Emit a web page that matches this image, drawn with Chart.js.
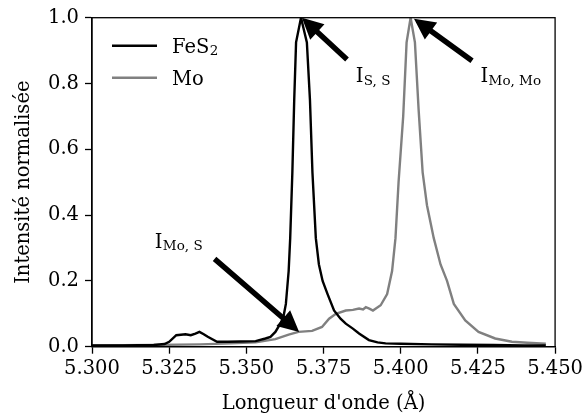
<!DOCTYPE html>
<html>
<head>
<meta charset="utf-8">
<script src="https://cdn.jsdelivr.net/npm/chart.js@4.4.1/dist/chart.umd.min.js"></script>
<style>
  html, body { margin: 0; padding: 0; background: #fff; }
  #wrap { width: 587px; height: 419px; }
</style>
</head>
<body>
<div id="wrap"><canvas id="viz" width="587" height="419"></canvas></div>
<script>
// FeS2 spectrum (wavelength in Å, normalised intensity)
const wavelengthFe = [5.300, 5.310, 5.320, 5.3235, 5.3250, 5.3273, 5.3303, 5.3320, 5.3335, 5.3348, 5.3362, 5.3375,
  5.3405, 5.3440, 5.3480, 5.3530, 5.3562, 5.3578, 5.3594, 5.3610, 5.3620, 5.3628, 5.3637, 5.3642, 5.3649,
  5.3655, 5.3661, 5.3677, 5.3696, 5.3706, 5.3714, 5.3725, 5.3735, 5.3747, 5.3763, 5.3784, 5.3805, 5.3822,
  5.3845, 5.3865, 5.3897, 5.3925, 5.3951, 5.4000, 5.4100, 5.4200, 5.4300, 5.4400, 5.4470];
const intensityFe = [0.004, 0.004, 0.005, 0.008, 0.015, 0.035, 0.038, 0.035, 0.040, 0.045, 0.038, 0.030,
  0.015, 0.015, 0.016, 0.017, 0.025, 0.030, 0.045, 0.070, 0.090, 0.130, 0.230, 0.330, 0.530,
  0.750, 0.925, 1.000, 0.925, 0.750, 0.530, 0.330, 0.250, 0.200, 0.160, 0.110, 0.085, 0.070,
  0.055, 0.040, 0.020, 0.013, 0.010, 0.009, 0.007, 0.006, 0.005, 0.004, 0.004];

// Mo spectrum
const wavelengthMo = [5.300, 5.320, 5.335, 5.345, 5.3530, 5.3594, 5.3637, 5.3669, 5.3713, 5.3745, 5.3768, 5.3790,
  5.3822, 5.3845, 5.3865, 5.3878, 5.3887, 5.3900, 5.3910, 5.3935, 5.3956, 5.3972, 5.3983, 5.3993, 5.4008,
  5.4019, 5.4032, 5.4046, 5.4058, 5.4071, 5.4085, 5.4107, 5.4129, 5.4150, 5.4172, 5.4209, 5.4252, 5.4306,
  5.4360, 5.4410, 5.4470];
const intensityMo = [0.004, 0.005, 0.007, 0.010, 0.013, 0.023, 0.037, 0.045, 0.048, 0.060, 0.085, 0.100,
  0.110, 0.112, 0.116, 0.113, 0.120, 0.115, 0.110, 0.126, 0.160, 0.230, 0.330, 0.500, 0.700,
  0.925, 1.000, 0.925, 0.720, 0.530, 0.430, 0.330, 0.250, 0.200, 0.130, 0.080, 0.045, 0.025,
  0.015, 0.012, 0.009];

const seriesNames = ['FeS', 'Mo'];
const seriesSubs = ['2', ''];
const seriesColors = ['#000000', '#808080'];

// peak labels: point, arrow tail and text anchor, all in data units
const annotLabels = ['I', 'I', 'I'];
const annotSubs = ['S, S', 'Mo, Mo', 'Mo, S'];
const annotPointX = [5.3680, 5.4043, 5.3671];
const annotPointY = [1.000, 0.997, 0.045];
const annotTailX = [5.3826, 5.4231, 5.3397];
const annotTailY = [0.873, 0.869, 0.267];
const annotTextX = [5.3854, 5.4258, 5.3203];
const annotTextY = [0.804, 0.804, 0.301];

const FONT = "'DejaVu Serif', serif";

function toPoints(xs, ys) {
  return xs.map((x, i) => ({ x: x, y: ys[i] }));
}

function drawArrow(ctx, x0, y0, x1, y1) {
  const dx = x1 - x0, dy = y1 - y0;
  const len = Math.sqrt(dx * dx + dy * dy);
  const ux = dx / len, uy = dy / len;
  const nx = -uy, ny = ux;
  const w = 2.7, hw = 10.5, hl = 21;
  const bx = x1 - ux * hl, by = y1 - uy * hl;
  ctx.beginPath();
  ctx.moveTo(x0 + nx * w, y0 + ny * w);
  ctx.lineTo(bx + nx * w, by + ny * w);
  ctx.lineTo(bx + nx * hw, by + ny * hw);
  ctx.lineTo(x1, y1);
  ctx.lineTo(bx - nx * hw, by - ny * hw);
  ctx.lineTo(bx - nx * w, by - ny * w);
  ctx.lineTo(x0 - nx * w, y0 - ny * w);
  ctx.closePath();
  ctx.fillStyle = '#000';
  ctx.fill();
}

function drawSubText(ctx, x, y, main, sub) {
  ctx.font = '19.5px ' + FONT;
  ctx.textAlign = 'left';
  ctx.textBaseline = 'alphabetic';
  ctx.fillStyle = '#000';
  ctx.fillText(main, x, y);
  if (sub) {
    const w = ctx.measureText(main).width;
    ctx.font = '13.5px ' + FONT;
    ctx.fillText(sub, x + w + 0.5, y + 2.5);
  }
}

const extrasPlugin = {
  id: 'extras',
  afterDatasetsDraw(chart) {
    const ctx = chart.ctx;
    const area = chart.chartArea;
    const xs = chart.scales.x, ys = chart.scales.y;
    ctx.save();

    // full box around the plot
    ctx.strokeStyle = '#000';
    ctx.lineWidth = 1.3;
    ctx.strokeRect(area.left, area.top, area.right - area.left, area.bottom - area.top);

    // legend
    for (let i = 0; i < seriesNames.length; i++) {
      const ly = area.top + 28 + i * 32;
      ctx.beginPath();
      ctx.moveTo(area.left + 20, ly);
      ctx.lineTo(area.left + 65, ly);
      ctx.strokeStyle = seriesColors[i];
      ctx.lineWidth = 2.6;
      ctx.stroke();
      drawSubText(ctx, area.left + 80, ly + 7, seriesNames[i], seriesSubs[i]);
    }

    // arrows and labels
    for (let i = 0; i < annotLabels.length; i++) {
      drawArrow(ctx,
        xs.getPixelForValue(annotTailX[i]), ys.getPixelForValue(annotTailY[i]),
        xs.getPixelForValue(annotPointX[i]), ys.getPixelForValue(annotPointY[i]));
      drawSubText(ctx, xs.getPixelForValue(annotTextX[i]), ys.getPixelForValue(annotTextY[i]),
        annotLabels[i], annotSubs[i]);
    }
    ctx.restore();
  }
};

const ctx = document.getElementById('viz');

new Chart(ctx, {
  type: 'line',
  data: {
    datasets: [
      {
        label: 'FeS2',
        data: toPoints(wavelengthFe, intensityFe),
        borderColor: seriesColors[0],
        borderWidth: 2.4,
        pointRadius: 0,
        tension: 0,
        fill: false
      },
      {
        label: 'Mo',
        data: toPoints(wavelengthMo, intensityMo),
        borderColor: seriesColors[1],
        borderWidth: 2.4,
        pointRadius: 0,
        tension: 0,
        fill: false
      }
    ]
  },
  options: {
    responsive: false,
    animation: false,
    layout: { padding: { top: 15, right: 30.3, left: 0, bottom: 0 } },
    plugins: {
      legend: { display: false },
      tooltip: { enabled: false }
    },
    scales: {
      x: {
        type: 'linear',
        min: 5.3,
        max: 5.45,
        afterFit: (scale) => { scale.height = 72.3; },
        ticks: {
          stepSize: 0.025,
          color: '#000',
          padding: 4,
          maxRotation: 0,
          font: { family: FONT, size: 19.5 },
          callback: (v) => v.toFixed(3)
        },
        grid: { drawOnChartArea: false, drawTicks: true, tickLength: 7, tickColor: '#000', tickWidth: 1.3 },
        border: { color: '#000', width: 1.3 },
        title: {
          display: true,
          text: "Longueur d'onde (Å)",
          color: '#000',
          font: { family: FONT, size: 19.5 },
          padding: { top: 0, bottom: 3 }
        }
      },
      y: {
        min: 0,
        max: 1,
        afterFit: (scale) => { scale.width = 92; },
        ticks: {
          stepSize: 0.2,
          color: '#000',
          padding: 6,
          font: { family: FONT, size: 19.5 },
          callback: (v) => v.toFixed(1)
        },
        grid: { drawOnChartArea: false, drawTicks: true, tickLength: 7, tickColor: '#000', tickWidth: 1.3 },
        border: { color: '#000', width: 1.3 },
        title: {
          display: true,
          text: 'Intensité normalisée',
          color: '#000',
          font: { family: FONT, size: 19.5 },
          padding: { top: 12, bottom: 0 }
        }
      }
    }
  },
  plugins: [extrasPlugin]
});
</script>
</body>
</html>
